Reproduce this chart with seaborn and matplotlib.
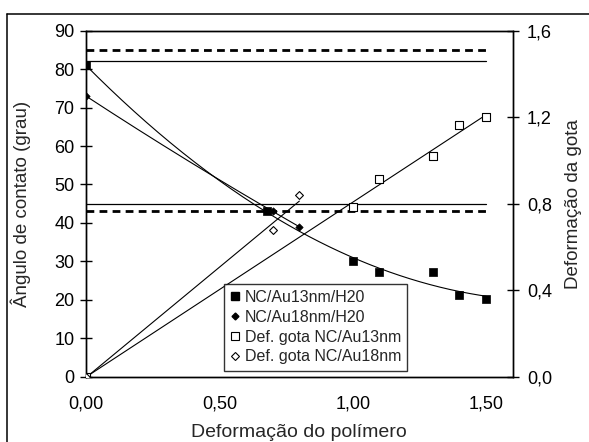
import numpy as np
import pandas as pd
import matplotlib
matplotlib.use("Agg")
import matplotlib.pyplot as plt
import seaborn as sns
from matplotlib.lines import Line2D

sns.set_style("white")
plt.rcParams['font.family'] = ['Liberation Sans', 'DejaVu Sans']

# ---- data ----
x_au13 = [0.0, 0.68, 1.0, 1.1, 1.3, 1.4, 1.5]
ang_au13 = [81.0, 43.0, 30.0, 27.2, 27.2, 21.2, 20.1]
x_au18 = [0.0, 0.70, 0.80]
ang_au18 = [73.0, 43.0, 39.0]
x_gota13 = [0.0, 1.0, 1.1, 1.3, 1.4, 1.5]
def_gota13 = [0.0, 0.786, 0.913, 1.021, 1.163, 1.20]
x_gota18 = [0.0, 0.70, 0.80]
def_gota18 = [0.0, 0.678, 0.840]
ref_solid = [82.0, 45.0]
ref_dashed = [85.0, 43.0]
ref_xrange = [0.0, 1.5]

labels = ["NC/Au13nm/H20", "NC/Au18nm/H20", "Def. gota NC/Au13nm", "Def. gota NC/Au18nm"]
xticks = [0.0, 0.5, 1.0, 1.5]
xticklabels = ["0,00", "0,50", "1,00", "1,50"]
yticks = [0, 10, 20, 30, 40, 50, 60, 70, 80, 90]
y2ticks = [0.0, 0.4, 0.8, 1.2, 1.6]
y2ticklabels = ["0,0", "0,4", "0,8", "1,2", "1,6"]

fig = plt.figure(figsize=(5.89, 4.42), dpi=100)
ax = fig.add_axes([0.146, 0.1478, 0.7245, 0.7827])
ax2 = ax.twinx()

lw_trend = 0.8

# reference horizontal lines
for v in ref_solid:
    sns.lineplot(x=ref_xrange, y=[v, v], ax=ax, color="black", lw=0.9)
for v in ref_dashed:
    sns.lineplot(x=ref_xrange, y=[v, v], ax=ax, color="black", lw=2.0,
                 linestyle=(0, (2.8, 1.9)))

# trendlines
def trend(xs, ys, deg, axis):
    c = np.polyfit(xs, ys, deg)
    xx = np.linspace(min(xs), max(xs), 200)
    sns.lineplot(x=xx, y=np.polyval(c, xx), ax=axis, color="black", lw=lw_trend)

trend(x_au13, ang_au13, 2, ax)
trend(x_au18, ang_au18, 2, ax)
trend(x_gota13, def_gota13, 1, ax2)
trend(x_gota18, def_gota18, 1, ax2)

# markers
sns.scatterplot(x=x_au13, y=ang_au13, ax=ax, marker="s", s=38, color="black",
                edgecolor="black", linewidth=0.5, zorder=5)
sns.scatterplot(x=x_au18, y=ang_au18, ax=ax, marker="D", s=14, color="black",
                edgecolor="black", linewidth=0.5, zorder=5)
sns.scatterplot(x=x_gota13, y=def_gota13, ax=ax2, marker="s", s=38, color="white",
                edgecolor="black", linewidth=0.8, zorder=5)
sns.scatterplot(x=x_gota18, y=def_gota18, ax=ax2, marker="D", s=16, color="white",
                edgecolor="black", linewidth=0.8, zorder=5)

ax.set_xlim(0, 1.6)
ax.set_ylim(0, 90)
ax2.set_ylim(0, 1.6)

ax.set_xticks(xticks)
ax.set_xticklabels(xticklabels)
ax.set_yticks(yticks)
ax2.set_yticks(y2ticks)
ax2.set_yticklabels(y2ticklabels)

for a in (ax, ax2):
    for s in a.spines.values():
        s.set_color("black")
        s.set_linewidth(1.0)
    a.tick_params(direction="inout", length=8.6, width=1.0, colors="black",
                  labelsize=13)
ax.tick_params(axis="x", pad=9)
ax.tick_params(axis="y", pad=4)
ax2.tick_params(axis="y", pad=6)

ax.set_xlabel("Deformação do polímero", fontsize=14)
ax.set_ylabel("Ângulo de contato (grau)", fontsize=13.5)
ax2.set_ylabel("Deformação da gota", fontsize=13.5)
ax.xaxis.set_label_coords(0.5, -0.137)
ax.yaxis.set_label_coords(-0.13, 0.5)
ax2.yaxis.set_label_coords(1.122, 0.5)

handles = [
    Line2D([], [], ls="none", marker="s", ms=5.5, mfc="black", mec="black"),
    Line2D([], [], ls="none", marker="D", ms=3.5, mfc="black", mec="black"),
    Line2D([], [], ls="none", marker="s", ms=5.5, mfc="white", mec="black", mew=0.8),
    Line2D([], [], ls="none", marker="D", ms=4, mfc="white", mec="black", mew=0.8),
]
leg = ax2.legend(handles, labels, loc="lower left", bbox_to_anchor=(0.323, 0.017),
                 borderaxespad=0, fontsize=11.5, frameon=True, fancybox=False,
                 handlelength=0.6, handletextpad=0.3, labelspacing=0.3,
                 borderpad=0.4)
leg.get_frame().set_edgecolor("black")
leg.get_frame().set_linewidth(1.0)

# outer chart border (left and top only visible)
fig.add_artist(Line2D([7/589, 7/589], [0, 1 - 14/442], color="black", lw=1.1,
                      transform=fig.transFigure))
fig.add_artist(Line2D([7/589, 1], [1 - 14/442, 1 - 14/442], color="black", lw=1.1,
                      transform=fig.transFigure))

fig.savefig("out.png", dpi=100)
